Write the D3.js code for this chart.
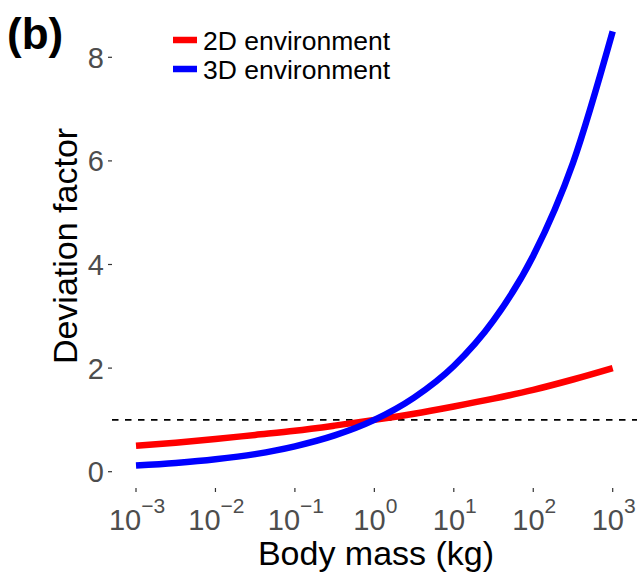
<!DOCTYPE html>
<html lang="en">
<head>
<meta charset="utf-8">
<title>Deviation factor vs body mass</title>
<script src="https://d3js.org/d3.v7.min.js"></script>
<style>
  body { margin: 0; background: #fff; }
  svg text { font-family: "Liberation Sans", Arial, sans-serif; }
</style>
</head>
<body>
<div id="chart"></div>
<script>
// body mass (kg), half-decade steps
var mass = [1e-3, 3.16e-3, 1e-2, 3.16e-2, 1e-1, 3.16e-1, 1, 3.16, 10, 31.6, 100, 316, 1000];
// deviation factor
var dev2D = [0.50, 0.56, 0.63, 0.71, 0.79, 0.89, 1.00, 1.12, 1.26, 1.41, 1.58, 1.78, 2.00];
var dev3D = [0.12, 0.17, 0.24, 0.34, 0.49, 0.70, 1.00, 1.43, 2.04, 2.92, 4.17, 5.96, 8.50];
var seriesNames = ["2D environment", "3D environment"];
var seriesColors = ["#ff0000", "#0000ff"];
var xTickExp = [-3, -2, -1, 0, 1, 2, 3];
var yTicks = [0, 2, 4, 6, 8];
var refLine = 1;

var width = 642, height = 572;

var svg = d3.select("#chart")
  .append("svg")
  .attr("width", width)
  .attr("height", height);

var x = d3.scaleLog().domain([1e-3, 1e3]).range([136, 612.7]);
var y = d3.scaleLinear().domain([0, 8]).range([471.7, 57.3]);

// dashed reference line across the panel
svg.append("line")
  .attr("x1", 112).attr("x2", 637)
  .attr("y1", y(refLine)).attr("y2", y(refLine))
  .attr("stroke", "#000")
  .attr("stroke-width", 1.6)
  .attr("stroke-dasharray", "6.5,6.5");

// curves
var line = d3.line()
  .x(function(d){ return x(d[0]); })
  .y(function(d){ return y(d[1]); })
  .curve(d3.curveMonotoneX);

[dev2D, dev3D].forEach(function(vals, i){
  svg.append("path")
    .datum(mass.map(function(m, j){ return [m, vals[j]]; }))
    .attr("fill", "none")
    .attr("stroke", seriesColors[i])
    .attr("stroke-width", 6.5)
    .attr("d", line);
});

// x axis: ticks + 10^n labels
var xAxis = svg.append("g");
xTickExp.forEach(function(e){
  var px = x(Math.pow(10, e));
  xAxis.append("line")
    .attr("x1", px).attr("x2", px)
    .attr("y1", 488).attr("y2", 492)
    .attr("stroke", "#333").attr("stroke-width", 1.2);
  var t = xAxis.append("text")
    .attr("x", px + 1).attr("y", 530)
    .attr("text-anchor", "middle")
    .attr("fill", "#4d4d4d")
    .attr("font-size", 29);
  t.append("tspan").text("10");
  t.append("tspan")
    .attr("font-size", 21)
    .attr("dy", -17)
    .text(e < 0 ? "\u2212" + (-e) : String(e));
});

// y axis
var yAxis = svg.append("g");
yTicks.forEach(function(v){
  yAxis.append("line")
    .attr("x1", 108).attr("x2", 112)
    .attr("y1", y(v)).attr("y2", y(v))
    .attr("stroke", "#333").attr("stroke-width", 1.2);
  yAxis.append("text")
    .attr("x", 104).attr("y", y(v))
    .attr("dy", "0.36em")
    .attr("text-anchor", "end")
    .attr("fill", "#4d4d4d")
    .attr("font-size", 29)
    .text(v);
});

// axis titles
svg.append("text")
  .attr("x", 376).attr("y", 565)
  .attr("text-anchor", "middle")
  .attr("font-size", 34)
  .attr("fill", "#000")
  .text("Body mass (kg)");

svg.append("text")
  .attr("transform", "translate(77,246) rotate(-90)")
  .attr("text-anchor", "middle")
  .attr("font-size", 34)
  .attr("fill", "#000")
  .text("Deviation factor");

// panel tag
svg.append("text")
  .attr("x", 7).attr("y", 49)
  .attr("font-size", 44)
  .attr("font-weight", "bold")
  .attr("fill", "#000")
  .text("(b)");

// legend
var legend = svg.append("g");
seriesNames.forEach(function(name, i){
  var ly = 40 + i * 29;
  legend.append("line")
    .attr("x1", 173).attr("x2", 197)
    .attr("y1", ly).attr("y2", ly)
    .attr("stroke", seriesColors[i])
    .attr("stroke-width", 6.5);
  legend.append("text")
    .attr("x", 203).attr("y", ly)
    .attr("dy", "0.36em")
    .attr("font-size", 26.5)
    .attr("fill", "#000")
    .text(name);
});
</script>
</body>
</html>
